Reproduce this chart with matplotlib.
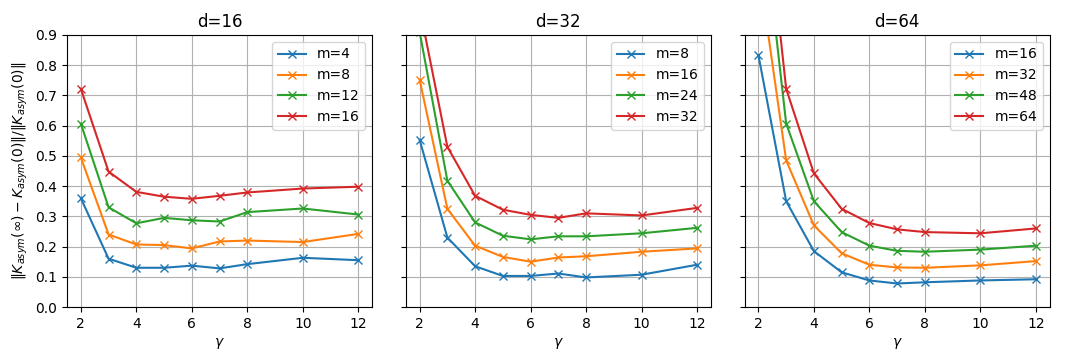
import matplotlib
matplotlib.use('Agg')
import matplotlib.pyplot as plt

gamma = [2, 3, 4, 5, 6, 7, 8, 10, 12]

# d=16
d16_m = ['m=4', 'm=8', 'm=12', 'm=16']
d16_m4 = [0.360, 0.160, 0.130, 0.130, 0.137, 0.128, 0.142, 0.163, 0.155]
d16_m8 = [0.495, 0.240, 0.207, 0.205, 0.194, 0.217, 0.220, 0.215, 0.242]
d16_m12 = [0.607, 0.330, 0.277, 0.295, 0.287, 0.283, 0.314, 0.326, 0.306]
d16_m16 = [0.722, 0.448, 0.381, 0.365, 0.358, 0.368, 0.379, 0.392, 0.398]

# d=32
d32_m = ['m=8', 'm=16', 'm=24', 'm=32']
d32_m8 = [0.553, 0.230, 0.135, 0.103, 0.103, 0.111, 0.098, 0.107, 0.140]
d32_m16 = [0.752, 0.325, 0.203, 0.166, 0.150, 0.164, 0.168, 0.183, 0.194]
d32_m24 = [0.910, 0.418, 0.280, 0.236, 0.224, 0.234, 0.234, 0.244, 0.262]
d32_m32 = [0.990, 0.530, 0.368, 0.322, 0.305, 0.295, 0.310, 0.303, 0.328]

# d=64
d64_m = ['m=16', 'm=32', 'm=48', 'm=64']
d64_m16 = [0.833, 0.350, 0.185, 0.115, 0.088, 0.078, 0.082, 0.088, 0.092]
d64_m32 = [1.130, 0.485, 0.270, 0.178, 0.140, 0.131, 0.130, 0.138, 0.152]
d64_m48 = [1.420, 0.607, 0.350, 0.248, 0.203, 0.186, 0.183, 0.190, 0.203]
d64_m64 = [1.570, 0.722, 0.442, 0.325, 0.278, 0.257, 0.248, 0.244, 0.260]

panels = [
    ('d=16', d16_m, [d16_m4, d16_m8, d16_m12, d16_m16]),
    ('d=32', d32_m, [d32_m8, d32_m16, d32_m24, d32_m32]),
    ('d=64', d64_m, [d64_m16, d64_m32, d64_m48, d64_m64]),
]

fig, axes = plt.subplots(1, 3, figsize=(10.8, 3.6), dpi=100, sharey=True)
plt.subplots_adjust(left=0.062, right=0.972, top=0.903, bottom=0.147, wspace=0.11)

for ax, (title, labels, series) in zip(axes, panels):
    for lab, vals in zip(labels, series):
        ax.plot(gamma, vals, marker='x', label=lab)
    ax.set_title(title, fontsize=12)
    ax.set_xlabel(r'$\gamma$')
    ax.grid(True)
    ax.legend(loc='upper right')

axes[0].set_ylim(0, 0.9)
axes[0].set_ylabel(r'$\|K_{asym}(\infty) - K_{asym}(0)\|/\|K_{asym}(0)\|$')

plt.savefig('out.png')
